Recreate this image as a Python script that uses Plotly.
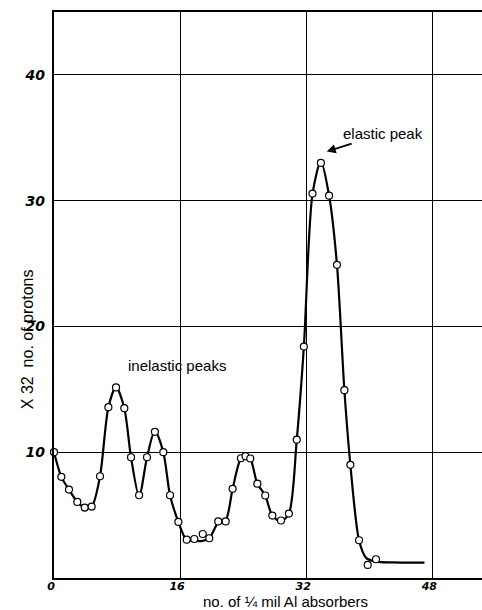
import plotly.graph_objects as go

# measured points (open circles)
pts_x = [0, 0.93, 1.9, 2.96, 3.9, 4.78, 5.84, 6.9, 7.87, 8.92, 9.77, 10.8, 11.8, 12.8, 13.87,
         14.72, 15.78, 16.84, 17.8, 18.87, 19.7, 20.84, 21.78, 22.66, 23.72, 24.3, 24.9, 25.8,
         26.8, 27.7, 28.8, 29.8, 30.8, 31.7, 32.8, 33.86, 34.9, 35.9, 36.84, 37.6, 38.7, 39.8, 40.85]
pts_y = [10.0, 8.04, 7.03, 6.05, 5.6, 5.68, 8.09, 13.58, 15.15, 13.5, 9.6, 6.58, 9.6, 11.62, 10.0,
         6.58, 4.46, 3.05, 3.1, 3.5, 3.16, 4.5, 4.5, 7.09, 9.52, 9.68, 9.5, 7.5,
         6.56, 4.96, 4.57, 5.12, 11.0, 18.4, 30.56, 33.0, 30.4, 24.9, 14.93, 9.0, 3.0, 1.04, 1.49]

# hand-drawn fitted curve
curve_x = [0, 0.93, 1.9, 2.96, 3.9, 4.78, 5.84, 6.9, 7.87, 8.92, 9.77, 10.8, 11.8, 12.8, 13.87,
           14.72, 15.78, 16.84, 17.8, 18.87, 19.7, 20.84, 21.78, 22.66, 23.72, 24.3, 24.9, 25.8,
           26.8, 27.7, 28.8, 29.8, 30.8, 31.7, 32.8, 33.86, 34.9, 35.9, 36.84, 37.6, 38.7, 39.6,
           40.85, 43.0, 47.0]
curve_y = [10.0, 8.04, 7.03, 6.05, 5.6, 5.68, 8.09, 13.58, 15.2, 13.5, 9.6, 6.5, 9.6, 11.7, 10.0,
           6.58, 4.46, 3.0, 2.95, 2.95, 3.16, 4.4, 4.6, 7.09, 9.52, 9.7, 9.5, 7.5,
           6.56, 4.96, 4.5, 5.12, 11.0, 18.4, 30.56, 33.1, 30.4, 24.9, 14.93, 9.0, 3.0, 1.6,
           1.3, 1.24, 1.22]

x_ticks = [0, 16, 32, 48]
y_ticks = [10, 20, 30, 40]

fig = go.Figure()
fig.add_trace(go.Scatter(x=curve_x, y=curve_y, mode="lines",
                         line=dict(color="black", width=2.2, shape="spline", smoothing=0.8),
                         hoverinfo="skip", showlegend=False))
fig.add_trace(go.Scatter(x=pts_x, y=pts_y, mode="markers",
                         marker=dict(symbol="circle", size=7, color="white",
                                     line=dict(color="black", width=1.2)),
                         showlegend=False, cliponaxis=False))

tickfont = dict(family="DejaVu Sans", size=14, color="black", weight="bold", style="italic")
fig.update_xaxes(range=[0, 54.3], tickvals=x_ticks, ticktext=[str(v) for v in x_ticks],
                 showgrid=True, gridcolor="black", gridwidth=1.2, zeroline=False,
                 showline=True, linecolor="black", linewidth=2.2, mirror=True,
                 ticks="", tickfont=dict(tickfont, size=11), ticklabelshift=-3,
                 ticklabelstandoff=-3)
fig.update_yaxes(range=[0, 45.0], tickvals=y_ticks, ticktext=[str(v) for v in y_ticks],
                 showgrid=True, gridcolor="black", gridwidth=1.2, zeroline=False,
                 showline=True, linecolor="black", linewidth=2.2,
                 ticks="", tickfont=tickfont, ticklabelstandoff=4)

title_font = dict(family="Liberation Sans", size=15, color="black")
fig.add_annotation(text="no. of ¼ mil Al absorbers", xref="paper", yref="paper",
                   x=0.54, y=-0.0415, xanchor="center", yanchor="middle",
                   showarrow=False, font=title_font)
fig.add_annotation(text="X 32  no. of protons", xref="paper", yref="paper",
                   x=-0.063, y=0.422, xanchor="center", yanchor="middle", textangle=-90,
                   showarrow=False, font=dict(title_font, size=16))
fig.add_annotation(text="inelastic peaks", x=15.57, y=16.9, xref="x", yref="y",
                   showarrow=False, font=dict(family="Liberation Sans", size=15, color="black"))
fig.add_annotation(text="elastic peak", x=34.6, y=33.9, xref="x", yref="y",
                   showarrow=True, ax=56, ay=-18, axref="pixel", ayref="pixel",
                   arrowhead=2, arrowsize=1, arrowwidth=1.8, arrowcolor="black",
                   font=dict(family="Liberation Sans", size=15, color="black"),
                   standoff=0)

fig.update_layout(width=482, height=610, margin=dict(l=54, r=0, t=12, b=32),
                  paper_bgcolor="white", plot_bgcolor="white")
fig.write_html("out.html")
